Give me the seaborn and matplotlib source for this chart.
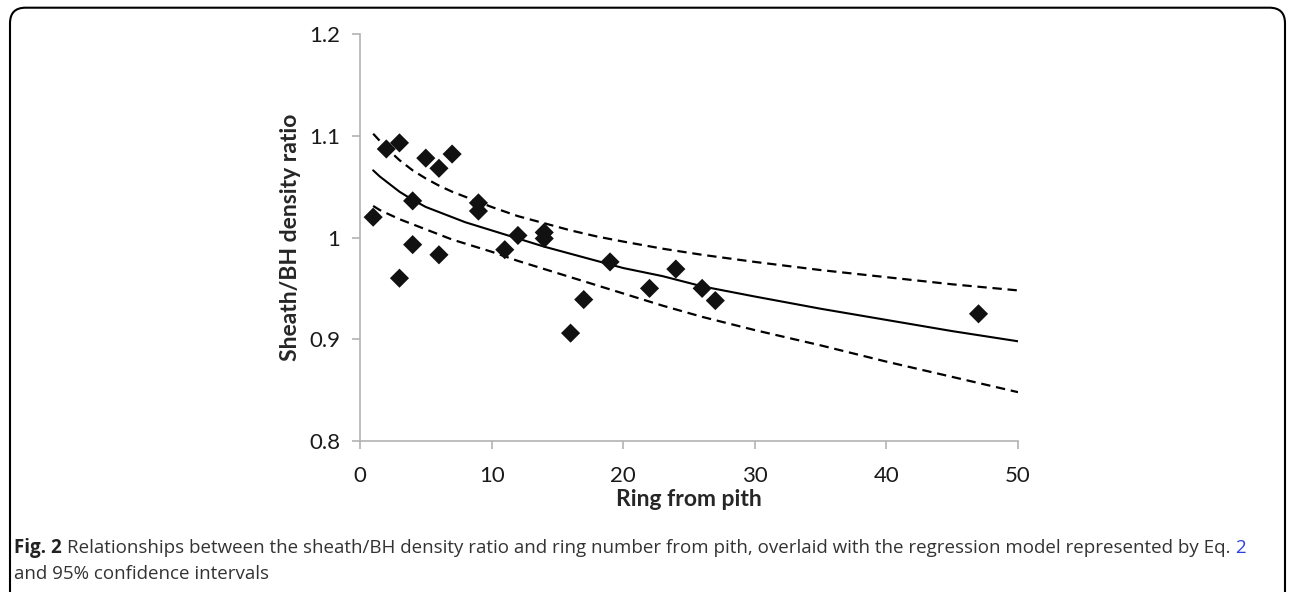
import numpy as np
import pandas as pd
import matplotlib
matplotlib.use("Agg")
import matplotlib.pyplot as plt
import seaborn as sns
from matplotlib.patches import FancyBboxPatch

# ---------------------------------------------------------
# DATA
# ---------------------------------------------------------

ring = [1, 2, 3, 3, 4, 4, 5, 6, 6, 7, 9, 9, 11, 12, 14, 14,
        16, 17, 19, 22, 24, 26, 27, 47]
ratio = [1.020, 1.087, 1.093, 0.960, 1.036, 0.993, 1.078, 1.068,
         0.983, 1.082, 1.034, 1.026, 0.988, 1.002, 1.005, 0.999,
         0.906, 0.939, 0.976, 0.950, 0.969, 0.950, 0.938, 0.925]

curve_x = [1, 1.5, 2, 3, 4, 5, 6, 7, 8, 10, 12, 14, 16, 18, 20,
           23, 26, 30, 35, 40, 45, 50]
fit = [1.066, 1.060, 1.055, 1.045, 1.037, 1.030, 1.025, 1.020,
       1.015, 1.007, 0.999, 0.991, 0.984, 0.977, 0.970, 0.962,
       0.952, 0.942, 0.930, 0.919, 0.908, 0.898]
upper = [1.102, 1.095, 1.088, 1.076, 1.066, 1.058, 1.051, 1.045,
         1.040, 1.030, 1.021, 1.014, 1.007, 1.001, 0.996, 0.989,
         0.983, 0.976, 0.968, 0.961, 0.954, 0.948]
lower = [1.031, 1.027, 1.024, 1.018, 1.013, 1.008, 1.003, 0.998,
         0.994, 0.986, 0.977, 0.969, 0.961, 0.953, 0.945, 0.933,
         0.922, 0.909, 0.894, 0.878, 0.863, 0.848]

x_ticks = [0, 10, 20, 30, 40, 50]
y_ticks = [0.8, 0.9, 1.0, 1.1, 1.2]
y_labels = ["0.8", "0.9", "1", "1.1", "1.2"]

points = pd.DataFrame({"ring": ring, "ratio": ratio})
curves = pd.DataFrame({"ring": curve_x, "fit": fit,
                       "upper": upper, "lower": lower})

# ---------------------------------------------------------
# STYLE
# ---------------------------------------------------------

sns.set_style("white")
plt.rcParams["font.family"] = ["Lato", "DejaVu Sans"]

W, H = 1295, 592
fig = plt.figure(figsize=(W / 100, H / 100), dpi=100)
ax = fig.add_axes([360 / W, 1 - 441 / H, 658 / W, 407 / H])

# ---------------------------------------------------------
# PLOT
# ---------------------------------------------------------

sns.lineplot(data=curves, x="ring", y="fit", ax=ax,
             color="black", linewidth=1.5, estimator=None)
for col in ["upper", "lower"]:
    sns.lineplot(data=curves, x="ring", y=col, ax=ax,
                 color="black", linewidth=1.6, estimator=None)
    ax.lines[-1].set_dashes((4.2, 2.6))

sns.scatterplot(data=points, x="ring", y="ratio", ax=ax,
                marker="D", s=95, color="#111111",
                edgecolor="none", zorder=3)

ax.set_xlim(0, 50)
ax.set_ylim(0.8, 1.2)
ax.set_xticks(x_ticks)
ax.set_yticks(y_ticks)
ax.set_yticklabels(y_labels)

for side in ["top", "right"]:
    ax.spines[side].set_visible(False)
for side in ["left", "bottom"]:
    ax.spines[side].set_color("#b3b3b3")
    ax.spines[side].set_linewidth(1.2)

ax.tick_params(axis="both", direction="out", length=6, width=1.2,
               color="#b3b3b3", labelsize=16, labelcolor="#1a1a1a",
               bottom=True, left=True)
ax.tick_params(axis="x", pad=12)
ax.tick_params(axis="y", pad=8)

ax.set_xlabel("Ring from pith", fontsize=16.5, fontweight="bold",
              labelpad=2)
ax.set_ylabel("Sheath/BH density ratio", fontsize=16.5,
              fontweight="bold", labelpad=6)

# ---------------------------------------------------------
# FRAME AND CAPTION
# ---------------------------------------------------------

frame = FancyBboxPatch((10 / W, -0.05), 1275 / W, 1.037,
                       boxstyle="round,pad=0,rounding_size=0.012",
                       transform=fig.transFigure, fill=False,
                       edgecolor="black", linewidth=1.5,
                       mutation_aspect=2.2)
fig.patches.append(frame)

cap_font = ["Open Sans", "DejaVu Sans"]
cap_size = 13.5
y1 = 1 - 548 / H
y2 = 1 - 574 / H

renderer = fig.canvas.get_renderer()
t_fig = fig.text(14 / W, y1, "Fig. 2", fontsize=cap_size,
                 fontweight="bold", family=cap_font, va="center",
                 color="#222222")
x_end = t_fig.get_window_extent(renderer).x1
t_main = fig.text((x_end + 5) / W, y1,
                  "Relationships between the sheath/BH density ratio and "
                  "ring number from pith, overlaid with the regression "
                  "model represented by Eq.",
                  fontsize=cap_size, family=cap_font, va="center",
                  color="#333333")
x_end = t_main.get_window_extent(renderer).x1
fig.text((x_end + 5) / W, y1, "2", fontsize=cap_size,
         family=cap_font, va="center", color="#2b3fe0")
fig.text(14 / W, y2, "and 95% confidence intervals",
         fontsize=cap_size, family=cap_font, va="center",
         color="#333333")

fig.savefig("out.png", dpi=100)
